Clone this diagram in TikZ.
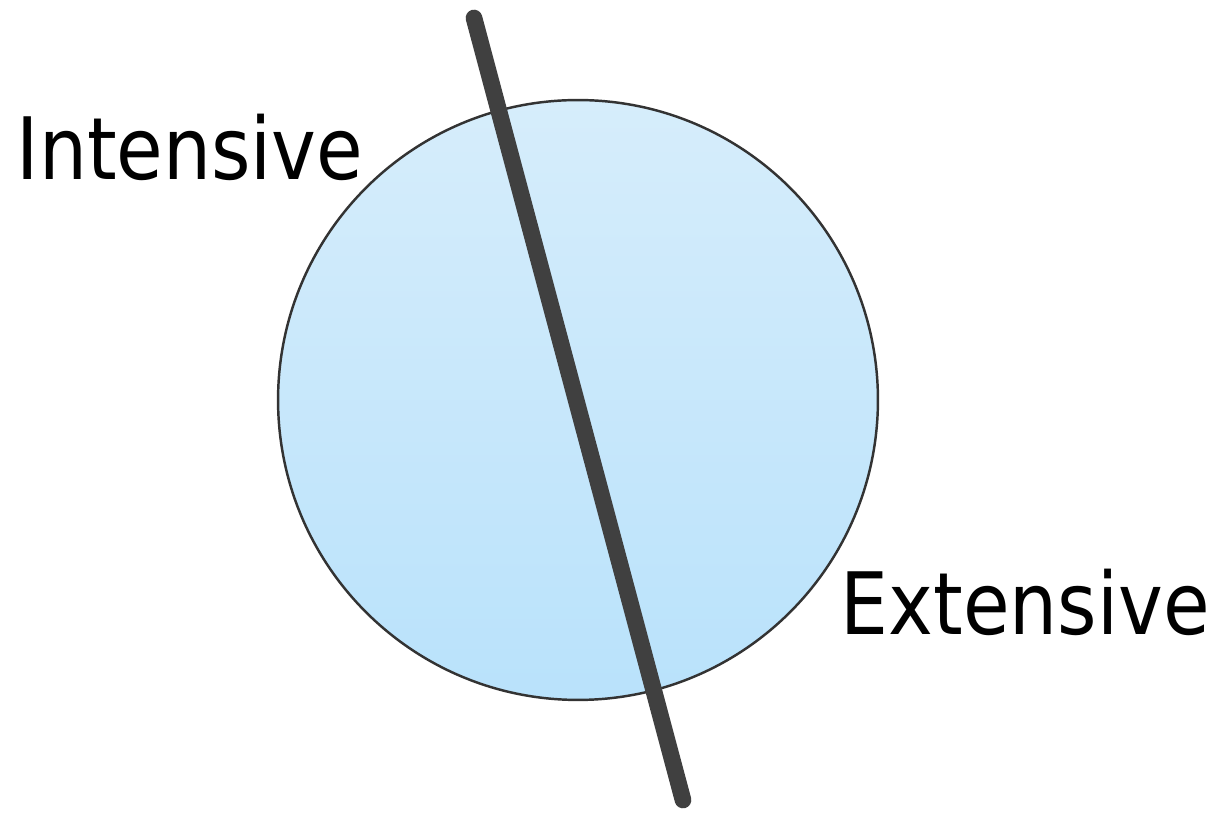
\documentclass[tikz,border=0pt]{standalone}
\usepackage{fontspec}
\setmainfont{DejaVu Sans}[FakeStretch=0.88]
\usepackage{tikz}

\definecolor{disktop}{RGB}{214,237,251}
\definecolor{diskbot}{RGB}{185,226,251}
\definecolor{bar}{RGB}{64,64,64}

\begin{document}
\begin{tikzpicture}[x=0.02cm, y=-0.02cm, thick]
    \useasboundingbox (0,0) rectangle (1211,813);
    \node[draw=black!80, line width=1.4pt, circle, minimum size=12cm, inner sep=0pt, top color=disktop, bottom color=diskbot] (disk) at (578,400) {};

    \coordinate (top) at (474,18);
    \coordinate (bot) at (683,800);
    \draw[line width=9.5pt, line cap=round, draw=bar] (top) -- (bot);

    \node[anchor=base west, inner sep=0pt, font=\fontsize{49}{50}\selectfont] (intensive) at (16,180) {Intensive};
    \node[anchor=base west, inner sep=0pt, font=\fontsize{49}{50}\selectfont] (extensive) at (840,635) {Extensive};
\end{tikzpicture}
\end{document}
